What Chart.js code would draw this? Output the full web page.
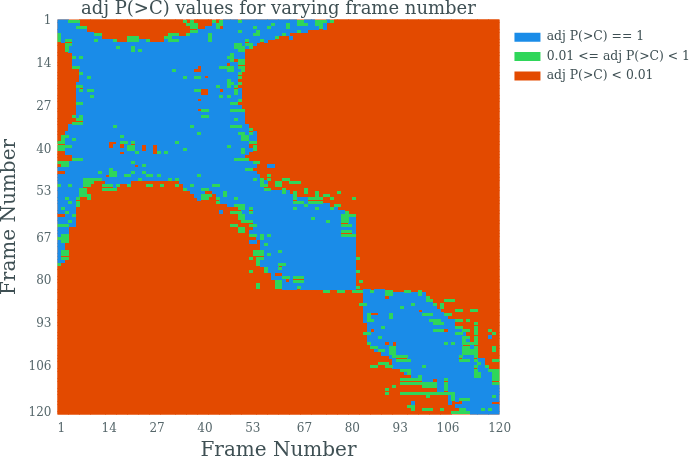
<!DOCTYPE html>
<html>
<head>
<meta charset="utf-8">
<script src="https://cdn.jsdelivr.net/npm/chart.js@4"></script>
<style>
  html, body { margin: 0; padding: 0; background: #fff; }
  #wrap { width: 692px; height: 458px; }
</style>
</head>
<body>
<div id="wrap"><canvas id="chart" width="692" height="458"></canvas></div>
<script>
// ---------- Data (one entry per frame row) ----------
const frameTicks = [1, 14, 27, 40, 53, 67, 80, 93, 106, 120];
const seriesNames = ['adj P(>C) == 1', '0.01 <= adj P(>C) < 1', 'adj P(>C) < 0.01'];

// columns that are blue in each row; everything else is orange unless listed in greenCells
const blueRuns = [
  '1-3 46-75', '1-6 43-73', '1-5 41-44 46-73', '1-8 39-68', '1-10 36-63',
  '1-12 32-60 64', '1-16 21-24 30-57', '3-54', '3-52', '4-51',
  '5-51', '5-51', '5-48 50-51', '5-46 48-51', '6-38 40-51',
  '7-37 40-51', '7-50', '7-40 42-50', '7-49', '6-49',
  '6-49', '6-39 42-44 46-50', '6-39 42-50', '6-50', '6-38 40-49',
  '6-49', '6-50', '6-38 41-51', '6-51', '5-51',
  '6-51', '5-51', '4-52', '4-53', '3-54',
  '2-54', '2-54', '3-14 17-53', '1-14 16-17 19-23 25-26 28-52', '1-23 25-26 28-53',
  '3-17 19-26 28-52', '5-51', '5-50', '1-53', '2-21 23-54 58-59',
  '1-53', '3-54', '1-13 15-55', '1-56', '1-10 14-20 34-57',
  '1-9 13-17 35-57', '1-8 36-58', '1-7 37-40 43-63', '1-8 38-42 44-65', '1-6 39-40 44-69',
  '1-6 45-72', '1-6 47-74', '1-5 50-76', '1-5 45 51-79', '3-5 51-81',
  '1-5 51-81', '1-5 52-81', '1-5 53-81', '1-3 54-81', '1-3 53-81',
  '1-3 54-81', '1-2 55-81', '1-3 53-54 56-81', '1-2 56-81', '1-2 56-81',
  '1-3 56-81', '1-3 55-81', '1-3 55-81', '1-2 55-81', '1 56-81',
  '57-81', '58-81', '59 62-81', '59-81', '60-62 64-81',
  '60-81', '61-81', '84-89', '84-100', '84-89 91-100',
  '84-102', '84-102', '84-103', '84-98 100-104', '84-85 88-105',
  '84-106', '84-108', '85-108', '85-110', '85 87-105 107-110',
  '85-111', '85-111 118', '85-112', '86-89 91 93-112', '86-113',
  '87-113', '89-113', '91-114', '92-116', '92-116',
  '92-117', '94-118', '95-118', '97-120', '97-102 104-120',
  '100-120', '103-120', '104-120', '108-120', '107-120',
  '107-120', '97 107 111-118', '109-120', '111-120', '113-120'
];

// columns that are green in each row
const greenCells = [
  '4 5 6 35 37 43 45 50 66 67 71 72 73 75', '36 37 38 44 45 59 63 66 67 68 71 72', '6 7 8 37 38 44 54 58 63 72', '37 38 50 55 66', '1 11 12 31 32 33 36 42 54 55 62',
  '1 20 21 22 30 31 42 60', '1 3 4 11 16 20 21 22 25 31 32 33 42 52 56', '3 4 49 50 52 53', '3 17 21 49 50 51 53', '3 21 23 50 51',
  '48', '5 7 47 48', '48 50 51', '50 51', '5 6 45 46 47 48 50 51',
  '32 47 48 51', '7 50', '9 35 38 39 50', '47', '47 48 50',
  '6 7 44 47 49', '7 9 10 38 39 49', '49', '10 45 47', '50',
  '6 7 48 49', '', '40 41 48 49 50 51', '', '5 7 40 41',
  '6 7 49', '5 6 7', '16 37 48 49 50', '53', '39 50 51 53',
  '2 3 18 51 52', '2 5 51 52', '1 2 18 19 21 33 53 54', '1 2 3 4 20 21 47 54', '1 2 20 21 35 51 54',
  '22 28 30 51', '', '5 6 7 49 50 51 52', '1 2 3 21 54 55', '2 3 24',
  '15 52 53', '12 15 16 21 24', '15 16 19 20 25 26 28 39 58', '8 9 10 11 12 23 31 33 54 56 58 62 63', '8 9 10 56 60 61 64 65 66',
  '1 4 8 9 13 14 15 17 20 25 26 29 33 37 43 44 56 57 60 61', '7 8 13 14 15 16 35 40 41 57 58 62 68', '7 8 46 62 65 68 71 77', '7 8 9 40 41 42 46 65 71 73 74', '3 6 9 40 41 44 49 65 69 70 71 72 75 81',
  '4 6 44 65 66 67 69 70 71 72', '6 49 50 51 68 76 77', '2 50 51 65 71 75 53', '3 48 49 50 53 79', '5 50 51 78 79 80 81',
  '50 51 70 78 79', '4 51 52 53 74 78 79', '1 2 3 48 49 53 54 78 79 80', '50 51', '50 51 78 79 80',
  '2 3 53 54 56 58 78 79 80 81', '1 2 3 56', '2 3', '57', '',
  '2 3 54 55 56 61', '2 3 54 55 56 58', '2 3 53 55 56 82', '55', '1 55 61 62',
  '57 61', '53 57 82', '', '62 63 65 66 67', '60 61 65 66 67 83',
  '55 60 61', '55 60 61 66 82', '73 74 77 78 81 82 86 82 83 90 91 95 96 99', '90 91 99', '101',
  '101 102 106 107 108', '83 84 97 103 105', '94 105', '109 110 113 114', '85 91 100 101 102 106 107',
  '85 91', '85 86 102 103 104 109 110 112', '103 104 105 114', '89 109 110 114', '103 104 105 111 112 114 118',
  '84 85 109 110 114 119', '88 111 112 114', '111 114', '85 106 108 111 112 113 114', '86 87 91 92 111 112 114 119',
  '88 89 91 92 111 112 113 114 119', '91 92 111 112 113 114', '92 93 94 95 110 114', '93 94 95 96 110 111 112 114 119 120', '88 89 90 115',
  '86 87 90 91 100 114 117', '94 95 96 114 118 119 120', '96 114 115 119 120', '99 114 115 119 120', '94 95 96 97 98 99 106 119 120',
  '94 95 96 97 98 99 100 101 102 103 106 119 120', '92 100 101 102 103 106', '90 106', '90 94 95 96 97 98 99 100 101 102 103 104 105 106 107 108', '101 108 119',
  '108 110 111 112', '', '96 97', '97 100 101 102 105 110 111 116 118', '108 109 110 111 112'
];

// ---------- Build the three point series ----------
function parseCols(text) {
  const cols = [];
  text.split(' ').filter(Boolean).forEach(part => {
    const [a, b] = part.split('-').map(Number);
    for (let c = a; c <= (b || a); c++) cols.push(c);
  });
  return cols;
}
const bluePts = [], greenPts = [], orangePts = [];
blueRuns.forEach((runs, i) => {
  const blue = new Set(parseCols(runs));
  const green = new Set(parseCols(greenCells[i]));
  for (let c = 1; c <= 120; c++) {
    const p = { x: c, y: i + 1 };
    if (green.has(c)) greenPts.push(p);
    else if (blue.has(c)) bluePts.push(p);
    else orangePts.push(p);
  }
});

function cellStyle(color, h) {
  const cv = document.createElement('canvas');
  cv.width = 4;
  cv.height = h;
  const g = cv.getContext('2d');
  g.fillStyle = color;
  g.fillRect(0, 0, 4, h);
  return cv;
}
function series(label, color, data, order, h) {
  return { label, data, order, backgroundColor: color, borderWidth: 0, pointStyle: cellStyle(color, h), pointRadius: 3 };
}

const blueColor = '#1a8ce8', greenColor = '#2fd65a', orangeColor = '#e34a00';
const tickColor = '#56676b';
const inkColor = '#3f5054';
const serif = '"DejaVu Serif"';

function frameAxis(titleOpts, tickOpts, reverse) {
  return {
    type: 'linear',
    min: 0.5,
    max: 120.5,
    reverse,
    grid: { display: false, drawTicks: false },
    border: { display: false },
    afterBuildTicks: axis => { axis.ticks = frameTicks.map(value => ({ value })); },
    ticks: { color: tickColor, font: { family: serif, size: 12 }, maxRotation: 0, autoSkip: false, ...tickOpts },
    title: { display: true, text: 'Frame Number', color: inkColor, font: { family: serif, size: 20, lineHeight: 1 }, padding: titleOpts }
  };
}

// crisp cell edges, a base coat for sub-pixel gaps, and the legend's resting place
const heatmapTweaks = {
  id: 'heatmapTweaks',
  afterLayout(chart) {
    chart.legend.left += 8;
    chart.legend.top += 24;
    chart.legend.bottom += 24;
  },
  beforeDatasetsDraw(chart) {
    const a = chart.chartArea;
    chart.ctx.fillStyle = orangeColor;
    chart.ctx.fillRect(a.left, a.top, a.right - a.left, a.bottom - a.top);
    chart.ctx.imageSmoothingEnabled = false;
  }
};

new Chart(document.getElementById('chart'), {
  type: 'scatter',
  data: {
    datasets: [
      series(seriesNames[0], blueColor, bluePts, 1, 4),
      series(seriesNames[1], greenColor, greenPts, 0, 3),
      series(seriesNames[2], orangeColor, orangePts, 2, 4)
    ]
  },
  options: {
    responsive: false,
    animation: false,
    events: [],
    scales: {
      x: { ...frameAxis({ top: 0, bottom: -3 }, { padding: 7, labelOffset: 2 }, false), afterFit: s => { s.height = 43.5; } },
      y: { ...frameAxis({ top: 0, bottom: 0 }, { padding: 6 }, true), afterFit: s => { s.width = 57.5; } }
    },
    plugins: {
      tooltip: { enabled: false },
      title: {
        display: true,
        fullSize: false,
        text: 'adj P(>C) values for varying frame number',
        color: inkColor,
        font: { family: serif, size: 18, weight: 'normal', lineHeight: 1 },
        padding: { top: 0, bottom: 1.5 }
      },
      legend: {
        position: 'right',
        align: 'start',
        maxWidth: 200,
        labels: {
          sort: (a, b) => a.datasetIndex - b.datasetIndex,
          boxWidth: 26,
          boxHeight: 9,
          color: inkColor,
          font: { family: serif, size: 12.4 },
          padding: 7
        }
      }
    }
  },
  plugins: [heatmapTweaks]
});
</script>
</body>
</html>
